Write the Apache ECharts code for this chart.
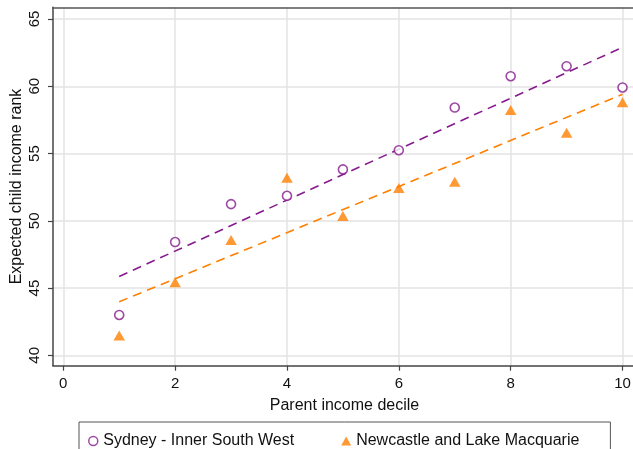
<!DOCTYPE html>
<html>
<head>
<meta charset="utf-8">
<script src="https://cdn.jsdelivr.net/npm/echarts@6/dist/echarts.min.js"></script>
<style>html,body{margin:0;padding:0;background:#fff;}#c{width:633px;height:449px;}</style>
</head>
<body>
<div id="c"></div>
<script>
var deciles = [1, 2, 3, 4, 5, 6, 7, 8, 9, 10];
var sydney = [43.0, 48.42, 51.24, 51.86, 53.82, 55.25, 58.42, 60.75, 61.49, 59.91];
var newcastle = [41.48, 45.43, 48.57, 53.2, 50.35, 52.43, 52.9, 58.23, 56.55, 58.82];
var fitX = [1, 10];
var sydneyFit = [45.86, 62.9];
var newcastleFit = [43.98, 59.4];
var xTicks = [0, 2, 4, 6, 8, 10];
var yTicks = [40, 45, 50, 55, 60, 65];
var names = ['Sydney - Inner South West', 'Newcastle and Lake Macquarie'];

var purple = '#861a8e';
var orange = '#ff7f00';
var font = 'Liberation Sans, Arial, Helvetica, sans-serif';

function pairs(xs, ys) { return xs.map(function (x, i) { return [x, ys[i]]; }); }

var chart = echarts.init(document.getElementById('c'), null, { renderer: 'canvas' });
chart.setOption({
  animation: false,
  textStyle: { fontFamily: font },
  grid: { left: 53, top: 7.3, right: -3, bottom: 83.3, containLabel: false, outerBoundsMode: 'none' },
  legend: {
    left: 79, top: 422,
    orient: 'horizontal',
    data: [
      { name: names[0], icon: 'circle', itemStyle: { color: '#fff', borderColor: purple, borderWidth: 1.5 } },
      { name: names[1], icon: 'triangle', itemStyle: { color: orange } }
    ],
    itemWidth: 10, itemHeight: 9, itemGap: 47, itemTextGap: 16.5,
    padding: [11, 31, 30, 9],
    borderColor: '#555', borderWidth: 1,
    textStyle: { fontFamily: font, fontSize: 16, color: '#111' }
  },
  xAxis: [{
    type: 'value', min: -0.184, max: 10.241,
    name: 'Parent income decile', nameLocation: 'middle', nameGap: 32, nameMoveOverlap: false,
    nameTextStyle: { fontFamily: font, fontSize: 16, color: '#111' },
    axisLine: { show: true, onZero: false, lineStyle: { color: '#444', width: 1.5 } },
    axisTick: { show: true, length: 5, customValues: xTicks, lineStyle: { color: '#444', width: 1.2 } },
    axisLabel: { customValues: xTicks, margin: 11, fontSize: 15, color: '#111', fontFamily: font },
    splitLine: { show: true, lineStyle: { color: '#e3e3e3', width: 1.5 } }
  }, {
    type: 'value', position: 'top', min: 0, max: 1,
    axisLine: { show: true, lineStyle: { color: '#555', width: 1.5 } },
    axisTick: { show: false }, axisLabel: { show: false }, splitLine: { show: false }
  }],
  yAxis: {
    type: 'value', min: 39.23, max: 65.87,
    name: 'Expected child income rank', nameLocation: 'middle', nameGap: 28, nameMoveOverlap: false,
    nameTextStyle: { fontFamily: font, fontSize: 16, color: '#111' },
    axisLine: { show: true, onZero: false, lineStyle: { color: '#444', width: 1.5 } },
    axisTick: { show: true, length: 5, customValues: yTicks, lineStyle: { color: '#444', width: 1.2 } },
    axisLabel: { customValues: yTicks, rotate: 90, margin: 11, fontSize: 15, color: '#111', fontFamily: font },
    splitLine: { show: true, lineStyle: { color: '#e3e3e3', width: 1.5 } }
  },
  series: [
    {
      name: names[0], type: 'scatter', data: pairs(deciles, sydney),
      symbol: 'circle', symbolSize: 9,
      itemStyle: { color: '#fff', borderColor: purple, borderWidth: 1.6 }, z: 5
    },
    {
      name: names[1], type: 'scatter', data: pairs(deciles, newcastle),
      symbol: 'triangle', symbolSize: [11.5, 10],
      itemStyle: { color: orange }, z: 5
    },
    {
      name: 'fit1', type: 'line', data: pairs(fitX, sydneyFit), symbol: 'none',
      lineStyle: { color: purple, width: 1.6, type: [9, 6] }, z: 3
    },
    {
      name: 'fit2', type: 'line', data: pairs(fitX, newcastleFit), symbol: 'none',
      lineStyle: { color: orange, width: 1.6, type: [9, 6] }, z: 3
    }
  ]
});
</script>
</body>
</html>
